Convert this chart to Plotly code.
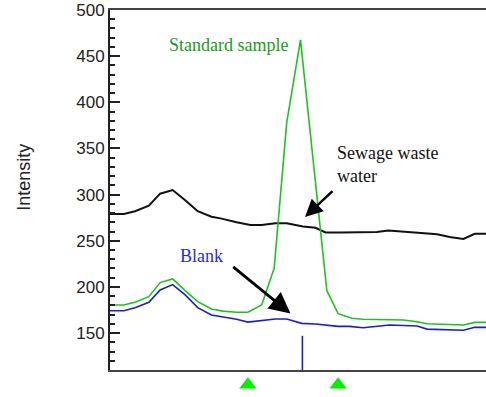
import plotly.graph_objects as go

# Scan positions (arbitrary time units) and intensities for each trace
sewage_x = [0.0, 1.1, 2.0, 3.1, 4.0, 5.0, 6.0, 7.0, 8.1, 8.9, 10.1, 11.2, 12.1, 13.2, 14.1,
            14.8, 15.4, 16.4, 17.2, 18.4, 19.7, 21.3, 22.2, 23.4, 24.3, 26.1, 27.1, 28.2, 29.1, 30.0]
sewage_y = [279, 279, 282, 288, 301, 305, 294, 282, 276, 274, 270, 267, 267, 269, 269,
            267, 265.5, 264, 259, 259, 259, 259.5, 261, 259.5, 259, 257, 254, 252, 257.5, 257.5]

standard_x = [0.0, 1.1, 2.0, 3.1, 4.0, 5.0, 6.0, 7.0, 8.1, 9.0, 10.1, 11.0, 12.1, 13.1,
              14.1, 15.2, 17.3, 18.2, 19.3, 20.2, 23.4, 24.5, 25.3, 26.9, 28.2, 29.1, 30.0]
standard_y = [180.4, 180.4, 183.4, 189.4, 204.7, 208.7, 196, 184, 176, 173.8, 172.5, 172.5,
              180.4, 220.3, 377.9, 467.7, 196, 171, 166, 164.9, 164.1, 162.3, 160.1, 159.4,
              158.7, 161.6, 161.6]

blank_x = [0.0, 1.1, 2.0, 3.1, 4.0, 5.0, 6.0, 7.0, 8.1, 9.0, 10.1, 11.0, 12.1, 13.2, 14.1,
           14.8, 15.3, 16.4, 18.2, 19.1, 20.2, 22.3, 23.4, 24.5, 25.3, 26.1, 27.1, 28.2, 29.1, 30.0]
blank_y = [174.2, 174.2, 177.5, 183.4, 196.7, 202.5, 191.3, 177.5, 169.5, 167.7, 164.9, 161.9,
           163.4, 165.2, 165.2, 162.3, 160.5, 159.8, 157.3, 157.3, 155.8, 158.7, 157.9, 157.6,
           154.3, 154, 153, 153, 156.2, 156.2]

# Injection marker and integration window limits
injection_x = 15.35
injection_y = [110, 147]
window_x = [11.0, 18.2]

Y_MIN, Y_MAX = 110, 500
X_MIN, X_MAX = 0, 30
Y_DOMAIN = [0.0698, 1]
MAJOR_STEP, MINOR_STEP = 50, 10

GREEN_LINE = "#1fc21f"
GREEN_TEXT = "#1c9a1c"
BLUE_LINE = "#1c1cd2"
BLUE_TEXT = "#2a2ae6"
AXIS = "#222222"

fig = go.Figure()
fig.add_trace(go.Scatter(x=sewage_x, y=sewage_y, mode="lines",
                         line=dict(color="#111111", width=2), name="Sewage waste water"))
fig.add_trace(go.Scatter(x=standard_x, y=standard_y, mode="lines",
                         line=dict(color=GREEN_LINE, width=1.6), name="Standard sample"))
fig.add_trace(go.Scatter(x=blank_x, y=blank_y, mode="lines",
                         line=dict(color=BLUE_LINE, width=1.6), name="Blank"))
fig.add_trace(go.Scatter(x=[injection_x, injection_x], y=injection_y, mode="lines",
                         line=dict(color=BLUE_LINE, width=1.6), name="Injection"))
# Window markers live in a thin strip under the time axis
fig.add_trace(go.Scatter(x=window_x, y=[0.45] * len(window_x), mode="markers",
                         xaxis="x2", yaxis="y2",
                         marker=dict(symbol="triangle-up", size=15, color="#00f000",
                                     line=dict(width=0)),
                         name="Window"))

serif = "Liberation Serif, Times New Roman, serif"
fig.add_annotation(x=9.45, y=462, text="Standard sample", showarrow=False,
                   font=dict(family=serif, size=18, color=GREEN_TEXT),
                   xanchor="center", yanchor="middle")
fig.add_annotation(x=17.95, y=358, text="Sewage waste<br>water", showarrow=False,
                   align="left", font=dict(family=serif, size=18, color="#111111"),
                   xanchor="left", yanchor="top")
fig.add_annotation(x=7.34, y=234, text="Blank", showarrow=False,
                   font=dict(family=serif, size=18, color=BLUE_TEXT),
                   xanchor="center", yanchor="middle")

# Callout arrows
fig.add_annotation(x=15.56, y=275.7, ax=17.87, ay=305.4, axref="x", ayref="y",
                   text="", showarrow=True, arrowhead=2, arrowsize=1.4,
                   arrowwidth=2.5, arrowcolor="#000000")
fig.add_annotation(x=14.4, y=171.2, ax=9.71, ay=223, axref="x", ayref="y",
                   text="", showarrow=True, arrowhead=2, arrowsize=1.5,
                   arrowwidth=2.8, arrowcolor="#000000")

# Vertical axis title
fig.add_annotation(xref="paper", yref="paper", x=-0.229, y=0.569, text="Intensity",
                   textangle=-90, showarrow=False, xanchor="center", yanchor="middle",
                   font=dict(size=18, color=AXIS))

fig.update_layout(
    width=486, height=397,
    margin=dict(l=110, r=0, t=10, b=0),
    paper_bgcolor="white", plot_bgcolor="white",
    showlegend=False,
    font=dict(family="Liberation Sans, Arial, sans-serif", color=AXIS),
    xaxis=dict(range=[X_MIN, X_MAX], anchor="y", showline=True, mirror=True,
               linecolor="#444444", linewidth=2, showticklabels=False, ticks="",
               showgrid=False, zeroline=False),
    yaxis=dict(domain=Y_DOMAIN, range=[Y_MIN, Y_MAX], anchor="x", tickmode="linear",
               tick0=0, dtick=MAJOR_STEP, showline=True, linecolor=AXIS, linewidth=2,
               ticks="inside", ticklen=10, tickwidth=2, tickcolor=AXIS,
               minor=dict(tick0=0, dtick=MINOR_STEP, ticks="inside", ticklen=5,
                          tickwidth=1.5, tickcolor=AXIS),
               tickfont=dict(size=17, color=AXIS), showgrid=False, zeroline=False),
    xaxis2=dict(range=[X_MIN, X_MAX], anchor="y2", matches="x", visible=False),
    yaxis2=dict(domain=[0, Y_DOMAIN[0]], range=[0, 1], anchor="x2", visible=False),
)

fig.write_html("out.html")
